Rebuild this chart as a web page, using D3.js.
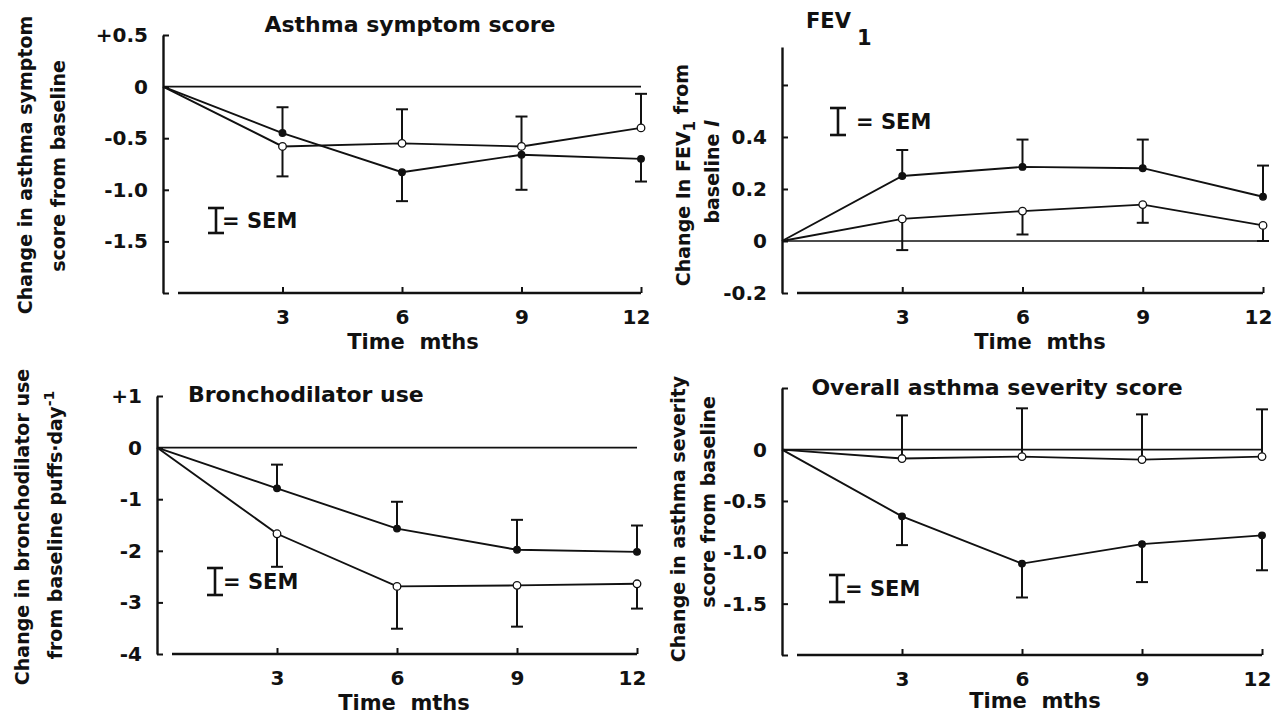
<!DOCTYPE html>
<html>
<head>
<meta charset="utf-8">
<script src="https://cdn.jsdelivr.net/npm/d3@7"></script>
<style>
  html, body { margin: 0; padding: 0; background: #ffffff; }
  svg { display: block; }
  text { font-family: "DejaVu Sans", "Liberation Sans", sans-serif; font-weight: bold; fill: #111; }
</style>
</head>
<body>
<svg id="chart" width="1274" height="715"></svg>
<script>
// ---------- DATA ----------
const months = [0, 3, 6, 9, 12];
const xTickValues = [3, 6, 9, 12];

// Asthma symptom score
const symptomFilled = [0, -0.45, -0.83, -0.66, -0.70];
const symptomFilledSem = [0, 0.25, 0.28, 0.34, 0.22];
const symptomOpen = [0, -0.58, -0.55, -0.58, -0.40];
const symptomOpenSem = [0, 0.29, 0.33, 0.29, 0.33];
const symptomYTicks = [0.5, 0, -0.5, -1.0, -1.5, -2.0];
const symptomYLabels = ["+0.5", "0", "-0.5", "-1.0", "-1.5", ""];

// FEV1
const fevFilled = [0, 0.25, 0.285, 0.28, 0.17];
const fevFilledSem = [0, 0.10, 0.105, 0.11, 0.12];
const fevOpen = [0, 0.085, 0.115, 0.14, 0.06];
const fevOpenSem = [0, 0.12, 0.09, 0.07, 0.06];
const fevYTicks = [0.6, 0.4, 0.2, 0, -0.2];
const fevYLabels = ["", "0.4", "0.2", "0", "-0.2"];

// Bronchodilator use
const bronchFilled = [0, -0.79, -1.57, -1.98, -2.02];
const bronchFilledSem = [0, 0.46, 0.52, 0.58, 0.51];
const bronchOpen = [0, -1.67, -2.69, -2.67, -2.64];
const bronchOpenSem = [0, 0.64, 0.82, 0.80, 0.48];
const bronchYTicks = [1, 0, -1, -2, -3, -4];
const bronchYLabels = ["+1", "0", "-1", "-2", "-3", "-4"];

// Overall asthma severity score
const severityFilled = [0, -0.65, -1.11, -0.92, -0.835];
const severityFilledSem = [0, 0.28, 0.33, 0.37, 0.34];
const severityOpen = [0, -0.087, -0.068, -0.097, -0.068];
const severityOpenSem = [0, 0.42, 0.47, 0.44, 0.46];
const severityYTicks = [0.6, 0, -0.5, -1.0, -1.5, -2.0];
const severityYLabels = ["", "0", "-0.5", "-1.0", "-1.5", ""];

// ---------- DRAWING ----------
const svg = d3.select("#chart");
const INK = "#111";

function drawPanel(cfg) {
  const g = svg.append("g");
  const x = d3.scaleLinear().domain([0, 12]).range(cfg.xr);
  const y = d3.scaleLinear().domain(cfg.yd).range(cfg.yr);

  // Y axis
  const ya = d3.axisLeft(y)
    .tickValues(cfg.yTicks)
    .tickFormat((d, i) => cfg.yLabels[i])
    .tickSizeInner(-6).tickSizeOuter(0).tickPadding(15);
  const yg = g.append("g").attr("transform", `translate(${x(0)},0)`).call(ya);
  yg.attr("font-family", null).attr("font-size", null);
  yg.select(".domain").attr("stroke", INK).attr("stroke-width", 2.4);
  yg.selectAll(".tick line").attr("stroke", INK).attr("stroke-width", 2);
  yg.selectAll(".tick text").style("font-size", "20px").attr("fill", INK);

  // X axis
  const xa = d3.axisBottom(x)
    .tickValues(xTickValues)
    .tickSizeInner(-6).tickSizeOuter(0).tickPadding(17);
  const xg = g.append("g").attr("transform", `translate(0,${y(cfg.yd[0])})`).call(xa);
  xg.attr("font-family", null).attr("font-size", null);
  xg.select(".domain").attr("d", `M${x(0) + 15},0H${x(12)}`).attr("stroke", INK).attr("stroke-width", 2.4);
  xg.selectAll(".tick line").attr("stroke", INK).attr("stroke-width", 2);
  xg.selectAll(".tick text").style("font-size", "20px").attr("fill", INK)
    .attr("dx", d => d >= 10 ? -5 : 0);

  // Zero line
  g.append("line")
    .attr("x1", x(0)).attr("x2", x(12))
    .attr("y1", y(0)).attr("y2", y(0))
    .attr("stroke", INK).attr("stroke-width", 1.6);

  const line = d3.line().x(d => x(d[0])).y(d => y(d[1]));
  const series = [
    { v: cfg.filled, s: cfg.filledSem, other: cfg.open, filled: true },
    { v: cfg.open, s: cfg.openSem, other: cfg.filled, filled: false }
  ];

  series.forEach(se => {
    g.append("path")
      .attr("d", line(months.map((m, i) => [m, se.v[i]])))
      .attr("fill", "none").attr("stroke", INK).attr("stroke-width", 1.9);
  });

  // Error bars (pointing away from the other series)
  series.forEach(se => {
    months.forEach((m, i) => {
      if (m === 0) return;
      const up = se.v[i] >= se.other[i];
      const end = up ? se.v[i] + se.s[i] : se.v[i] - se.s[i];
      g.append("line")
        .attr("x1", x(m)).attr("x2", x(m))
        .attr("y1", y(se.v[i])).attr("y2", y(end))
        .attr("stroke", INK).attr("stroke-width", 2);
      g.append("line")
        .attr("x1", x(m) - 6).attr("x2", x(m) + 6)
        .attr("y1", y(end)).attr("y2", y(end))
        .attr("stroke", INK).attr("stroke-width", 2);
    });
  });

  // Markers
  series.forEach(se => {
    months.forEach((m, i) => {
      if (m === 0) return;
      g.append("circle")
        .attr("cx", x(m)).attr("cy", y(se.v[i]))
        .attr("r", se.filled ? 3.3 : 3.8)
        .attr("fill", se.filled ? INK : "#fff")
        .attr("stroke", INK).attr("stroke-width", 1.3);
    });
  });

  // X axis title
  g.append("text")
    .attr("x", cfg.timePos[0]).attr("y", cfg.timePos[1])
    .attr("text-anchor", "middle")
    .style("font-size", "21px").style("white-space", "pre")
    .text("Time  mths");

  // SEM legend
  const lg = cfg.sem;
  g.append("line").attr("x1", lg.bx).attr("x2", lg.bx).attr("y1", lg.y0).attr("y2", lg.y1)
    .attr("stroke", INK).attr("stroke-width", 2.6);
  [lg.y0, lg.y1].forEach(yy => {
    g.append("line").attr("x1", lg.bx - 8).attr("x2", lg.bx + 8).attr("y1", yy).attr("y2", yy)
      .attr("stroke", INK).attr("stroke-width", 2.6);
  });
  g.append("text")
    .attr("x", lg.tx).attr("y", (lg.y0 + lg.y1) / 2).attr("dy", "0.36em")
    .style("font-size", "21px").style("white-space", "pre")
    .text(lg.text);

  return g;
}

function yLabel(x, y, build) {
  const t = svg.append("text")
    .attr("transform", `translate(${x},${y}) rotate(-90)`)
    .attr("text-anchor", "middle").attr("dy", "0.35em")
    .style("font-size", "19px");
  build(t);
  return t;
}

// Panel 1: Asthma symptom score
drawPanel({
  xr: [163, 641], yd: [-2, 0.5], yr: [293, 35],
  yTicks: symptomYTicks, yLabels: symptomYLabels,
  filled: symptomFilled, filledSem: symptomFilledSem,
  open: symptomOpen, openSem: symptomOpenSem,
  timePos: [413, 349],
  sem: { bx: 216, y0: 208, y1: 233, tx: 222, text: "= SEM" }
});
svg.append("text").attr("x", 410).attr("y", 32).attr("text-anchor", "middle")
  .style("font-size", "22px").text("Asthma symptom score");
yLabel(25, 165, t => t.text("Change in asthma symptom"));
yLabel(58, 166, t => t.text("score from baseline"));

// Panel 2: FEV1
drawPanel({
  xr: [782, 1263], yd: [-0.2, 0.746], yr: [293, 47],
  yTicks: fevYTicks, yLabels: fevYLabels,
  filled: fevFilled, filledSem: fevFilledSem,
  open: fevOpen, openSem: fevOpenSem,
  timePos: [1040, 349],
  sem: { bx: 838, y0: 108, y1: 135, tx: 856, text: "= SEM" }
});
const fevTitle = svg.append("text").attr("x", 806).attr("y", 28).style("font-size", "21px");
fevTitle.append("tspan").text("FEV");
fevTitle.append("tspan").attr("dy", 17).attr("dx", 6).text("1");
yLabel(683, 175, t => {
  t.append("tspan").text("Change In FEV");
  t.append("tspan").attr("dy", "0.35em").style("font-size", "15px").text("1");
  t.append("tspan").attr("dy", "-0.35em").text(" from");
});
yLabel(712, 172, t => {
  t.append("tspan").text("baseline ");
  t.append("tspan").style("font-style", "italic").text("l");
});

// Panel 3: Bronchodilator use
drawPanel({
  xr: [157, 637], yd: [-4, 1], yr: [654, 396],
  yTicks: bronchYTicks, yLabels: bronchYLabels,
  filled: bronchFilled, filledSem: bronchFilledSem,
  open: bronchOpen, openSem: bronchOpenSem,
  timePos: [404, 710],
  sem: { bx: 215, y0: 568, y1: 595, tx: 223, text: "= SEM" }
});
svg.append("text").attr("x", 188).attr("y", 402)
  .style("font-size", "22px").text("Bronchodilator use");
yLabel(22, 527, t => t.text("Change in bronchodilator use"));
yLabel(55, 525, t => {
  t.append("tspan").text("from baseline puffs·day");
  t.append("tspan").attr("dy", "-0.55em").style("font-size", "14px").text("-1");
});

// Panel 4: Overall asthma severity score
drawPanel({
  xr: [782, 1262], yd: [-2, 0.6], yr: [655, 388],
  yTicks: severityYTicks, yLabels: severityYLabels,
  filled: severityFilled, filledSem: severityFilledSem,
  open: severityOpen, openSem: severityOpenSem,
  timePos: [1035, 708],
  sem: { bx: 837, y0: 575, y1: 602, tx: 845, text: "= SEM" }
});
svg.append("text").attr("x", 997).attr("y", 395).attr("text-anchor", "middle")
  .style("font-size", "22px").text("Overall asthma severity score");
yLabel(678, 519, t => t.text("Change in asthma severity"));
yLabel(708, 502, t => t.text("score from baseline"));
</script>
</body>
</html>
